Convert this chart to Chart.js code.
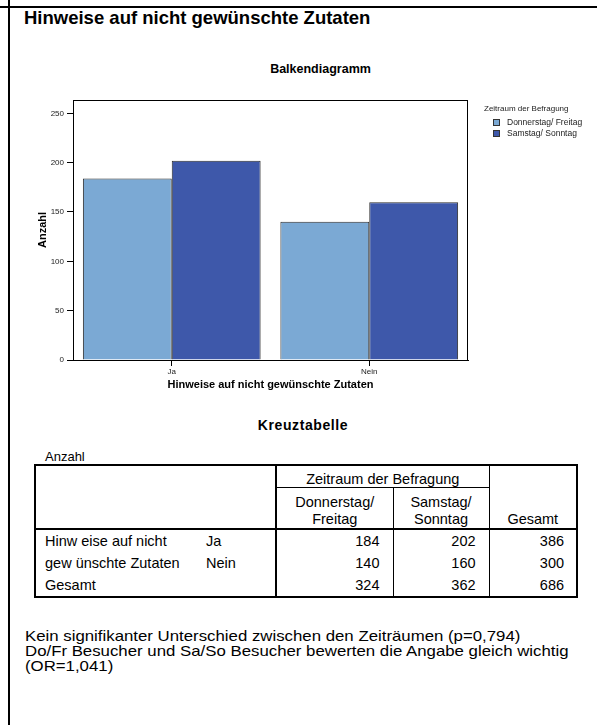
<!DOCTYPE html>
<html lang="de">
<head>
<meta charset="utf-8">
<title>Hinweise auf nicht gewünschte Zutaten</title>
<script src="https://cdn.jsdelivr.net/npm/chart.js@4.4.1/dist/chart.umd.min.js"></script>
<style>
  html, body { margin: 0; padding: 0; background: #fff; overflow: hidden; }
  body { width: 597px; height: 725px; position: relative; font-family: "Liberation Sans", Arial, sans-serif; color: #000; }
  .abs { position: absolute; white-space: nowrap; }
  #borderLeft { position: absolute; left: 8px; top: 0; width: 2px; height: 725px; background: #000; }
  #borderTop { position: absolute; left: 0; top: 6px; width: 597px; height: 2px; background: #000; }
  #pageTitle { left: 24px; top: 9.3px; font-size: 18.5px; font-weight: bold; line-height: 18.5px; }
  #chartTitle { left: 220px; width: 201px; top: 63.4px; font-size: 12.5px; font-weight: bold; line-height: 12.5px; text-align: center; }
  #chart { position: absolute; left: 0; top: 0; }
  #legend { left: 484px; top: 102.7px; font-size: 8px; color: #222; }
  #legend .lt { line-height: 11px; margin-bottom: 3px; }
  #legend .li { display: flex; align-items: center; height: 11px; margin-left: 9px; font-size: 8.5px; }
  #legend .box { width: 7px; height: 7px; box-sizing: border-box; border: 1px solid #333; margin-right: 7px; }
  #tableTitle { left: 0; width: 606px; top: 418.2px; font-size: 14px; font-weight: bold; line-height: 14px; text-align: center; letter-spacing: 0.6px; }
  #anzahl { left: 45px; top: 450px; font-size: 13px; line-height: 13px; }
  #kreuz { position: absolute; left: 34px; top: 464px; border-collapse: collapse; table-layout: fixed; width: 542px;
           font-size: 14.5px; border: 2px solid #000; }
  #kreuz td { padding: 0; white-space: nowrap; line-height: 22px; vertical-align: middle; }
  #kreuz tr.h1 td { height: 21px; }
  #kreuz tr.h2 td { height: 40px; }
  #kreuz .c { text-align: center; }
  #kreuz .hb { vertical-align: bottom; line-height: 17px; }
  #kreuz .n { text-align: right; padding-right: 13px; }
  #kreuz .tot { padding-right: 12px; }
  #kreuz .thickR { border-right: 2px solid #000; }
  #kreuz .thinR { border-right: 1px solid #000; }
  #kreuz .thickB { border-bottom: 2px solid #000; }
  #kreuz .thinB { border-bottom: 1px solid #000; }
  #kreuz .lab { padding-left: 9px; vertical-align: top; }
  #kreuz .sub { padding-left: 6px; }
  #notes { left: 25px; top: 628px; font-size: 15px; line-height: 15px; transform: scaleX(1.12); transform-origin: 0 0; }
</style>
</head>
<body>
<div id="borderLeft"></div>
<div id="borderTop"></div>
<div id="pageTitle" class="abs">Hinweise auf nicht gewünschte Zutaten</div>
<div id="chartTitle" class="abs">Balkendiagramm</div>
<canvas id="chart" width="597" height="400"></canvas>
<div id="legend" class="abs"></div>
<div id="tableTitle" class="abs">Kreuztabelle</div>
<div id="anzahl" class="abs">Anzahl</div>
<table id="kreuz"></table>
<div id="notes" class="abs">Kein signifikanter Unterschied zwischen den Zeiträumen (p=0,794)<br>Do/Fr Besucher und Sa/So Besucher bewerten die Angabe gleich wichtig<br>(OR=1,041)</div>
<script>
  const FONT = '"Liberation Sans", Arial, sans-serif';

  // Data
  const categories = ['Ja', 'Nein'];
  const seriesLabels = ['Donnerstag/ Freitag', 'Samstag/ Sonntag'];
  const seriesColors = ['#7BA9D4', '#3E58AA'];
  const donnerstagFreitag = [184, 140];
  const samstagSonntag = [202, 160];
  const rowTotals = [386, 300];
  const colTotals = [324, 362, 686];
  const yTicks = [0, 50, 100, 150, 200, 250];
  const yMax = 263.5;

  Chart.defaults.font.family = FONT;

  // Draw the closed frame round the plot area
  const framePlugin = {
    id: 'frame',
    afterDraw(chart) {
      const { ctx, chartArea: a } = chart;
      ctx.save();
      ctx.strokeStyle = '#000';
      ctx.lineWidth = 1;
      ctx.strokeRect(a.left + 0.5, a.top + 0.5, a.right - a.left - 1, a.bottom - a.top);
      ctx.restore();
    }
  };

  const chart = new Chart(document.getElementById('chart'), {
    type: 'bar',
    data: {
      labels: categories,
      datasets: [
        { label: seriesLabels[0], data: donnerstagFreitag, backgroundColor: seriesColors[0], borderColor: '#2b2b2b', borderWidth: 1 },
        { label: seriesLabels[1], data: samstagSonntag, backgroundColor: seriesColors[1], borderColor: '#2b2b2b', borderWidth: 1 }
      ]
    },
    options: {
      responsive: false,
      animation: false,
      layout: { padding: { top: 100, left: 20, right: 129, bottom: 8 } },
      datasets: { bar: { categoryPercentage: 0.9, barPercentage: 1.0 } },
      plugins: {
        legend: { display: false },
        title: { display: false },
        tooltip: { enabled: false }
      },
      scales: {
        x: {
          grid: { offset: false, drawOnChartArea: false, drawTicks: true, tickLength: 6, color: '#000' },
          border: { display: true, color: '#000', width: 1 },
          ticks: { font: { size: 8 }, color: '#222', padding: 1, maxRotation: 0 },
          title: {
            display: true,
            text: 'Hinweise auf nicht gewünschte Zutaten',
            font: { size: 11, weight: 'bold' },
            color: '#000',
            padding: { top: 0, bottom: 0 }
          },
          afterFit: scale => { scale.height = 32; }
        },
        y: {
          min: 0,
          max: yMax,
          afterBuildTicks: scale => { scale.ticks = yTicks.map(v => ({ value: v })); },
          grid: { drawOnChartArea: false, drawTicks: true, tickLength: 6, color: '#000' },
          border: { display: true, color: '#000', width: 1 },
          ticks: { font: { size: 8 }, color: '#222', padding: 3 },
          title: {
            display: true,
            text: 'Anzahl',
            font: { size: 11, weight: 'bold' },
            color: '#000',
            padding: { top: 16.4, bottom: 0 }
          },
          afterFit: scale => { scale.width = 53; }
        }
      }
    },
    plugins: [framePlugin]
  });

  // Legend built from the chart's datasets
  const legendEl = document.getElementById('legend');
  let legendHtml = '<div class="lt">Zeitraum der Befragung</div>';
  chart.data.datasets.forEach(ds => {
    legendHtml += `<div class="li"><span class="box" style="background:${ds.backgroundColor}"></span>${ds.label}</div>`;
  });
  legendEl.innerHTML = legendHtml;

  // Kreuztabelle
  const table = document.getElementById('kreuz');
  let html = '<colgroup><col style="width:165px"><col style="width:76px"><col style="width:117px"><col style="width:96px"><col style="width:88px"></colgroup>';
  html += '<tr class="h1"><td colspan="2" rowspan="2" class="thickR thickB"></td>' +
          '<td colspan="2" class="c hb thinB thinR" style="line-height:15px">Zeitraum der Befragung</td>' +
          '<td rowspan="2" class="c hb thickB">Gesamt</td></tr>';
  html += '<tr class="h2"><td class="c hb thickB thinR">Donnerstag/<br>Freitag</td>' +
          '<td class="c hb thickB thinR">Samstag/<br>Sonntag</td></tr>';
  categories.forEach((cat, i) => {
    html += '<tr>';
    if (i === 0) html += '<td rowspan="2" class="lab">Hinw eise auf nicht<br>gew ünschte Zutaten</td>';
    html += `<td class="sub">${cat}</td>` +
            `<td class="n" style="border-left:2px solid #000">${donnerstagFreitag[i]}</td>` +
            `<td class="n" style="border-left:1px solid #000">${samstagSonntag[i]}</td>` +
            `<td class="n tot" style="border-left:1px solid #000">${rowTotals[i]}</td></tr>`;
  });
  html += '<tr><td colspan="2" class="lab" style="vertical-align:middle">Gesamt</td>' +
          `<td class="n" style="border-left:2px solid #000">${colTotals[0]}</td>` +
          `<td class="n" style="border-left:1px solid #000">${colTotals[1]}</td>` +
          `<td class="n tot" style="border-left:1px solid #000">${colTotals[2]}</td></tr>`;
  table.innerHTML = html;
</script>
</body>
</html>
